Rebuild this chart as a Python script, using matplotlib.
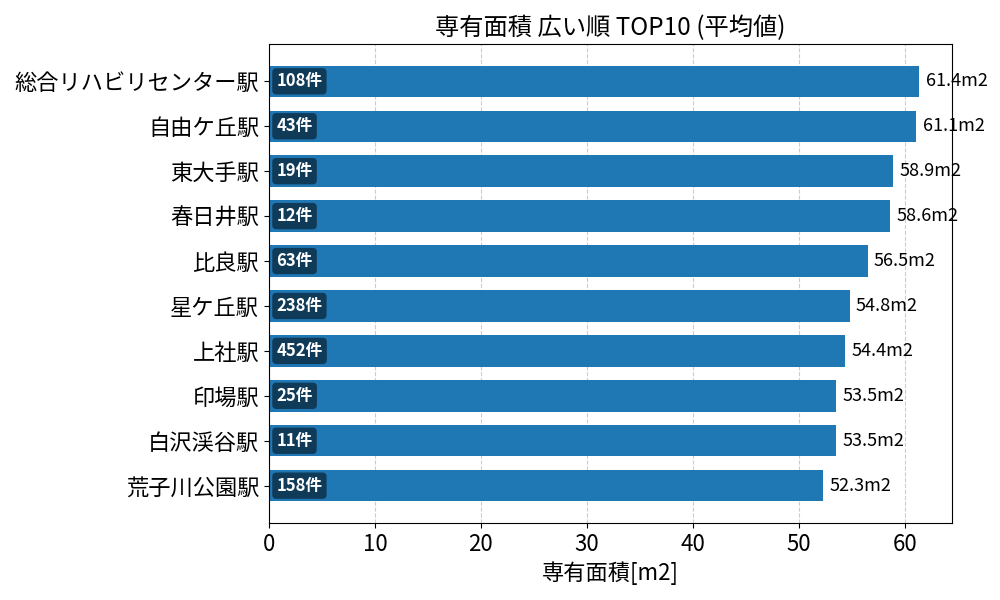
import matplotlib
matplotlib.use('Agg')
import matplotlib.pyplot as plt

plt.rcParams['font.family'] = ['Noto Sans CJK JP', 'DejaVu Sans']

# data (top to bottom)
stations = ['総合リハビリセンター駅', '自由ケ丘駅', '東大手駅', '春日井駅', '比良駅',
            '星ケ丘駅', '上社駅', '印場駅', '白沢渓谷駅', '荒子川公園駅']
areas = [61.4, 61.1, 58.9, 58.6, 56.5, 54.8, 54.4, 53.5, 53.5, 52.3]
counts = [108, 43, 19, 12, 63, 238, 452, 25, 11, 158]

fig, ax = plt.subplots(figsize=(10, 6), dpi=100)
fig.subplots_adjust(left=0.269, right=0.952, top=0.927, bottom=0.128)

ypos = list(range(len(stations)))[::-1]
ax.barh(ypos, areas, height=0.7, color='#1f77b4', zorder=2)
ax.set_yticks(ypos)
ax.set_yticklabels(stations, fontsize=16)
ax.tick_params(axis='x', labelsize=16)
ax.grid(axis='x', linestyle='--', color='#cccccc', zorder=0)
ax.set_axisbelow(True)

for y, a, c in zip(ypos, areas, counts):
    ax.text(a + 0.6, y, f'{a:.1f}m2', va='center', ha='left', fontsize=13, zorder=5)
    ax.text(0.7, y, f'{c}件', va='center', ha='left', fontsize=12, color='white',
            fontweight='bold', zorder=5,
            bbox=dict(boxstyle='round,pad=0.25', facecolor='black', alpha=0.5, edgecolor='none'))

ax.set_xlabel('専有面積[m2]', fontsize=16)
ax.set_title('専有面積 広い順 TOP10 (平均値)', fontsize=17.5)

plt.savefig('out.png')
